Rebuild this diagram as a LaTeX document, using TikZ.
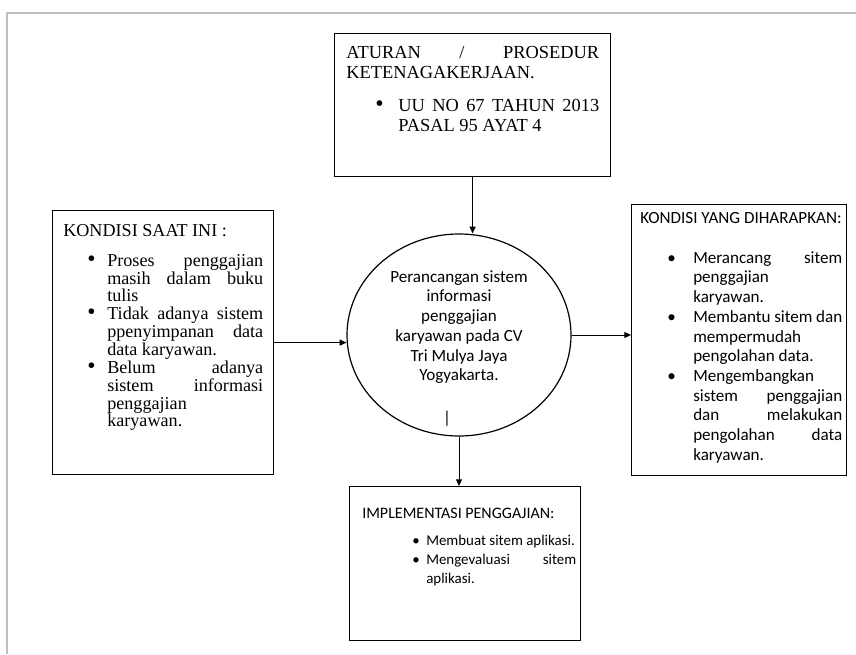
\documentclass[tikz,border=0pt]{standalone}
\usepackage{fontspec}
\setmainfont{Liberation Serif}
\newfontfamily\calibri{Carlito}
\usetikzlibrary{shapes.geometric,arrows.meta}
\definecolor{framegray}{RGB}{191,191,191}
\hyphenpenalty=10000 \exhyphenpenalty=10000
\tolerance=10000
% bullet item: bullet offset, text indent, text
\newcommand{\bul}{\textbullet}
\newcommand{\bitem}[3]{\par\hangindent=#2\hangafter=1\noindent\hspace*{#1}\makebox[\dimexpr#2-#1\relax][l]{\bul}\ignorespaces#3\par}
\tikzset{
  box/.style={draw, line width=0.9pt, anchor=north west, inner sep=0pt},
  boxtext/.style={anchor=north west, inner sep=0pt, align=justify},
  bigbullet/.style={execute at begin node=\renewcommand{\bul}{\scalebox{1.3}{\textbullet}}},
  times/.style={font=\fontsize{13.6}{13.4}\selectfont, bigbullet},
  calib/.style={font=\calibri\fontsize{12.8}{14.8}\selectfont},
  arr/.style={-{Triangle[length=5pt,width=4.5pt]}, line width=0.7pt},
}
\begin{document}
\begin{tikzpicture}[x=0.75pt,y=-0.75pt]
\useasboundingbox (0,0) rectangle (856,654);
\draw[framegray, line width=1.1pt] (7,654) -- (7,13) -- (856,13);

% boxes
\node[box, minimum width=207pt, minimum height=107.25pt] (aturan) at (334,33) {};
\node[box, minimum width=165.75pt, minimum height=198pt] (kondisi) at (52,210) {};
\node[box, minimum width=161.25pt, minimum height=203.25pt] (harapan) at (631,204) {};
\node[box, minimum width=173.25pt, minimum height=115.5pt] (implementasi) at (349,486) {};
\node[draw, ellipse, line width=0.9pt, minimum width=168pt, minimum height=151.5pt, inner sep=0pt] (rancang) at (459,335) {};

% texts
\node[boxtext, bigbullet, font=\fontsize{13.8}{15}\selectfont, text width=189.75pt] (aturantext) at ([shift={(12,13)}]aturan.north west)
  {ATURAN / PROSEDUR\linebreak KETENAGAKERJAAN.\par\vspace{9.75pt}%
   \bitem{21.75pt}{39pt}{UU NO 67 TAHUN 2013\linebreak PASAL 95 AYAT 4}};
\node[boxtext, times, text width=150pt] (kondisitext) at ([shift={(11,14)}]kondisi.north west)
  {KONDISI SAAT INI :\par\vspace{9pt}%
   \bitem{18pt}{33pt}{Proses penggajian\linebreak masih dalam buku\linebreak tulis}%
   \bitem{18pt}{33pt}{Tidak adanya sistem\linebreak ppenyimpanan data\linebreak data karyawan.}%
   \bitem{18pt}{33pt}{Belum adanya\linebreak sistem informasi\linebreak penggajian\newline karyawan.}};
\node[boxtext, calib, text width=151.5pt] (harapantext) at ([shift={(9,8)}]harapan.north west)
  {KONDISI YANG DIHARAPKAN:\par\vspace{15pt}%
   \bitem{20.25pt}{39.75pt}{Merancang sitem\linebreak penggajian\newline karyawan.}%
   \bitem{20.25pt}{39.75pt}{Membantu sitem dan\linebreak mempermudah\newline pengolahan data.}%
   \bitem{20.25pt}{39.75pt}{Mengembangkan\newline sistem penggajian\linebreak dan melakukan\linebreak pengolahan data\linebreak karyawan.}};
\node[boxtext, font=\calibri\fontsize{12}{14.6}\selectfont, text width=160.5pt] (implementasitext) at ([shift={(13,22)}]implementasi.north west)
  {IMPLEMENTASI PENGGAJIAN:\par\vspace{6pt}%
   \fontsize{11.2}{14.2}\selectfont
   \bitem{37.5pt}{48pt}{Membuat sitem aplikasi.}%
   \bitem{37.5pt}{48pt}{Mengevaluasi sitem\linebreak aplikasi.}};
\node[calib, align=center] (rancangtext) at (459,327)
  {Perancangan sistem\\informasi\\penggajian\\karyawan pada CV\\Tri Mulya Jaya\\Yogyakarta.};
\node[calib, inner sep=0pt] (kursor) at (447,419) {|};

% connectors
\draw[arr] (aturan.south) -- (aturan.south |- rancang.north);
\draw[arr] (kondisi.east) -- (kondisi.east -| rancang.west);
\draw[arr] (rancang.east) -- (rancang.east -| harapan.west);
\draw[arr] (rancang.south) -- (rancang.south |- implementasi.north);
\end{tikzpicture}
\end{document}
